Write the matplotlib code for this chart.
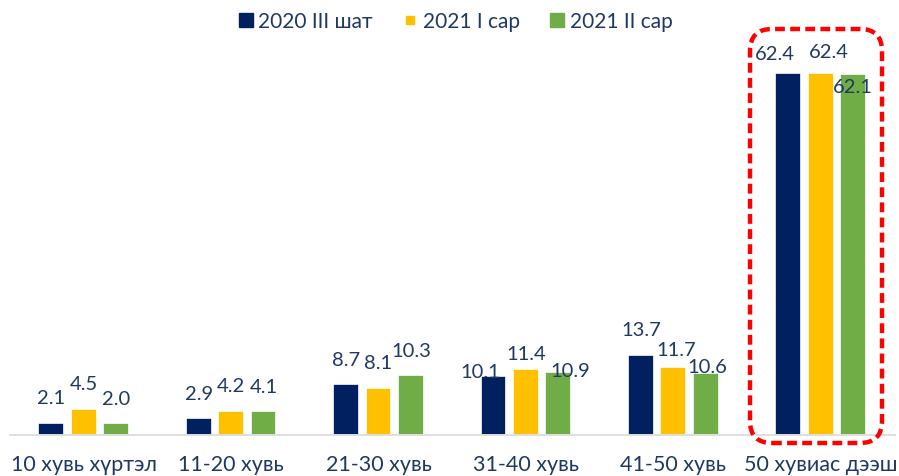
import numpy as np
import matplotlib
matplotlib.use('Agg')
import matplotlib.pyplot as plt
from matplotlib.patches import FancyBboxPatch
from matplotlib.lines import Line2D

# Data
categories = ['10 хувь хүртэл', '11-20 хувь', '21-30 хувь', '31-40 хувь', '41-50 хувь', '50 хувиас дээш']
series_names = ['2020 III шат', '2021 I сар', '2021 II сар']
s2020_3 = [2.1, 2.9, 8.7, 10.1, 13.7, 62.4]
s2021_1 = [4.5, 4.2, 8.1, 11.4, 11.7, 62.4]
s2021_2 = [2.0, 4.1, 10.3, 10.9, 10.6, 62.1]

colors = ['#002060', '#FFC000', '#70AD47']
text_color = '#203864'

# label nudges (pixels) where the original labels were shifted to avoid clashes
label_nudge = {
    (0, 3): (-13, 5), (1, 3): (0, 15), (2, 3): (12, 1),
    (0, 4): (0, 26), (1, 4): (3, 18), (2, 4): (2, 7),
    (0, 5): (-13, 19), (1, 5): (8, 21), (2, 5): (0, -12),
}
default_dy = 25

plt.rcParams['font.family'] = ['Lato', 'DejaVu Sans']

fig = plt.figure(figsize=(8.99, 4.77), dpi=100)
ax = fig.add_axes([0.011, 0.086, 0.984, 0.852])

x = np.arange(len(categories))
width = 0.175
offset = 0.22
ymax = 70

for i, (vals, col) in enumerate(zip([s2020_3, s2021_1, s2021_2], colors)):
    pos = x + (i - 1) * offset
    ax.bar(pos, vals, width, color=col, edgecolor='white', linewidth=1.2, zorder=2)
    for j, (px, v) in enumerate(zip(pos, vals)):
        dx, dy = label_nudge.get((i, j), (0, default_dy))
        ax.annotate(f'{v:.1f}', xy=(px, v), xytext=(dx, dy), textcoords='offset pixels',
                    ha='center', va='center', fontsize=14.5, color=text_color, zorder=3)

ax.set_xlim(-0.5, len(categories) - 0.5)
ax.set_ylim(0, ymax)
ax.set_xticks(x)
ax.set_xticklabels(categories, fontsize=15.5, color=text_color)
ax.tick_params(axis='x', length=0, pad=14)
ax.set_yticks([])
for s in ['top', 'right', 'left']:
    ax.spines[s].set_visible(False)
ax.spines['bottom'].set_color('#D9D9D9')
ax.spines['bottom'].set_linewidth(1.2)

handles = [Line2D([], [], marker='s', linestyle='none', color=colors[0], markersize=10),
           Line2D([], [], marker='s', linestyle='none', color=colors[1], markersize=6),
           Line2D([], [], marker='s', linestyle='none', color=colors[2], markersize=10)]
leg = fig.legend(handles, series_names, loc='center', bbox_to_anchor=(0.505, 0.953),
                 ncol=3, frameon=False, fontsize=15, handletextpad=0.1,
                 columnspacing=1.3, handlelength=1.0)
for t in leg.get_texts():
    t.set_color(text_color)

# red dashed rounded box around the last group
box = FancyBboxPatch((7.50, 0.33), 1.32, 4.14,
                     boxstyle='round,pad=0,rounding_size=0.22',
                     transform=fig.dpi_scale_trans, fill=False,
                     edgecolor='#FF0000', linewidth=3.2, linestyle=(0, (2.2, 1.2)),
                     zorder=5)
fig.add_artist(box)

fig.savefig('out.png', dpi=100)
